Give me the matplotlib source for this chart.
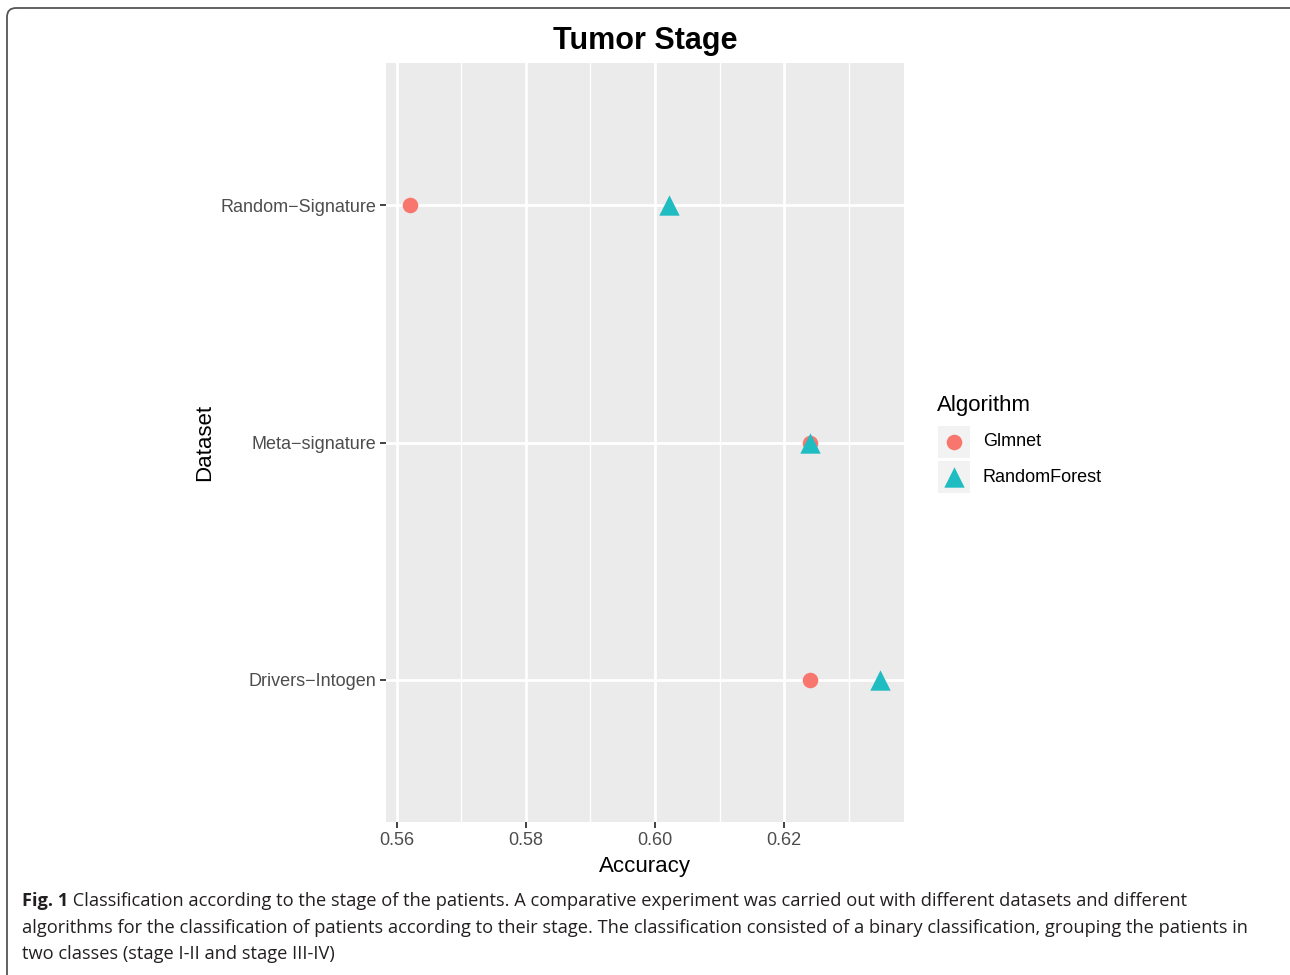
import matplotlib
matplotlib.use("Agg")
import matplotlib.pyplot as plt
from matplotlib.patches import FancyBboxPatch, Rectangle

# data
datasets = ["Drivers\u2212Intogen", "Meta\u2212signature", "Random\u2212Signature"]
algorithms = ["Glmnet", "RandomForest"]
glmnet_acc = [0.6240, 0.6240, 0.5620]
rf_acc = [0.6349, 0.6241, 0.6022]
x_ticks = [0.56, 0.58, 0.60, 0.62]
x_minor = [0.57, 0.59, 0.61, 0.63]

colors = {"Glmnet": "#F8766D", "RandomForest": "#1FBCC2"}
markers = {"Glmnet": "o", "RandomForest": "^"}
sizes = {"Glmnet": 125, "RandomForest": 215}
values = {"Glmnet": glmnet_acc, "RandomForest": rf_acc}

caption = [
    " Classification according to the stage of the patients. A comparative experiment was carried out with different datasets and different",
    "algorithms for the classification of patients according to their stage. The classification consisted of a binary classification, grouping the patients in",
    "two classes (stage I-II and stage III-IV)",
]

plt.rcParams["font.family"] = ["Liberation Sans", "DejaVu Sans"]

W, H = 1290, 975
fig = plt.figure(figsize=(W / 100, H / 100), dpi=100)

# main panel
ax = fig.add_axes([386 / W, 1 - 822 / H, (904 - 386) / W, (822 - 63) / H])
ax.set_facecolor("#EBEBEB")
for s in ax.spines.values():
    s.set_visible(False)

ypos = list(range(1, len(datasets) + 1))
for alg in algorithms:
    ax.scatter(values[alg], ypos, s=sizes[alg], marker=markers[alg],
               color=colors[alg], linewidths=0, zorder=3)

ax.set_xlim(0.5583, 0.6386)
ax.set_ylim(0.4, 3.6)
ax.set_xticks(x_ticks)
ax.set_xticklabels([f"{v:.2f}" for v in x_ticks])
ax.set_xticks(x_minor, minor=True)
ax.set_yticks(ypos)
ax.set_yticklabels(datasets)
ax.grid(which="major", color="white", lw=2.0, zorder=0)
ax.grid(which="minor", axis="x", color="white", lw=1.0, zorder=0)
ax.set_axisbelow(True)
ax.tick_params(which="major", length=4, width=1.3, color="#333333",
               labelcolor="#4D4D4D", labelsize=13, pad=3)
ax.tick_params(which="minor", length=0)
ax.set_xlabel("Accuracy", fontsize=16, labelpad=5)
ax.set_ylabel("Dataset", fontsize=16, labelpad=4)
ax.set_title("Tumor Stage", fontsize=22, fontweight="bold", pad=10)

# overlay in pixel coords: frame, legend, caption
ov = fig.add_axes([0, 0, 1, 1], zorder=-1)
ov.set_xlim(0, W)
ov.set_ylim(H, 0)
ov.axis("off")
ov.add_patch(FancyBboxPatch((7, 8), 1320, 1000,
                            boxstyle="round,pad=0,rounding_size=9",
                            fc="none", ec="#555555", lw=1.3))

lx = fig.add_axes([0, 0, 1, 1], zorder=5)
lx.set_xlim(0, W)
lx.set_ylim(H, 0)
lx.axis("off")
lx.text(937, 405, "Algorithm", fontsize=16, va="center", ha="left")
for i, alg in enumerate(algorithms):
    cy = 442 + i * 35
    lx.add_patch(Rectangle((938, cy - 16), 32, 32, fc="#F2F2F2", ec="none"))
    lx.scatter([954], [cy], s=sizes[alg], marker=markers[alg],
               color=colors[alg], linewidths=0)
    lx.text(983, cy, alg, fontsize=13, va="center", ha="left")

# caption
cap_font = ["Open Sans", "DejaVu Sans"]
fs = 13
fig.canvas.draw()
r = fig.canvas.get_renderer()
t = lx.text(22, 928, caption[1], fontsize=fs, family=cap_font, va="center",
            color="#231F20")
w = t.get_window_extent(r).width
fs = fs * 1225 / w
t.set_fontsize(fs)
t1 = lx.text(22, 901, "Fig. 1", fontsize=fs, family=cap_font,
             fontweight="bold", va="center", color="#231F20")
bw = t1.get_window_extent(r).width
lx.text(22 + bw, 901, caption[0], fontsize=fs, family=cap_font,
        va="center", color="#231F20")
lx.text(22, 954, caption[2], fontsize=fs, family=cap_font, va="center",
        color="#231F20")

fig.savefig("out.png", dpi=100)
